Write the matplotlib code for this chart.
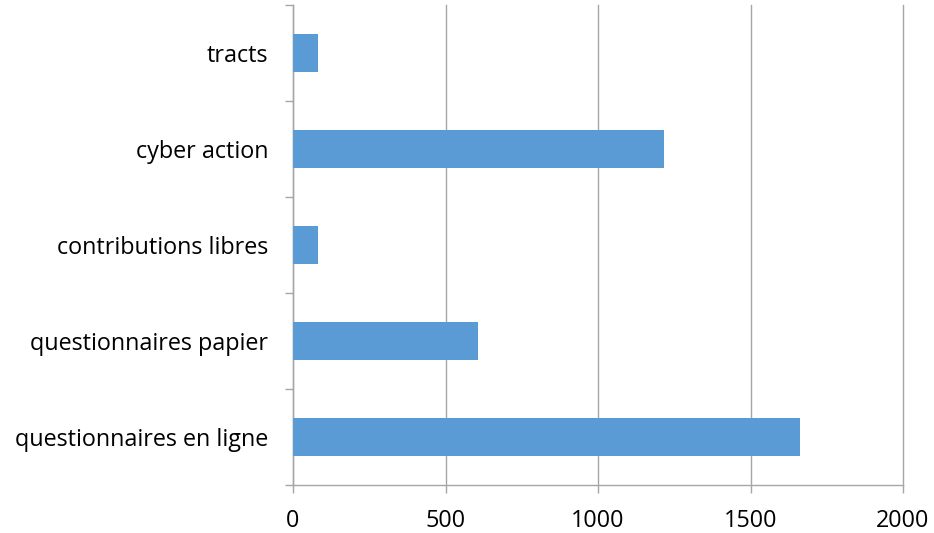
import matplotlib
matplotlib.use("Agg")
import matplotlib.pyplot as plt
import numpy as np

# data
categories = ["questionnaires en ligne", "questionnaires papier",
              "contributions libres", "cyber action", "tracts"]
values = [1662, 606, 83, 1216, 81]
x_ticks = [0, 500, 1000, 1500, 2000]

bar_color = "#5b9bd5"
line_color = "#a6a6a6"

plt.rcParams["font.family"] = ["Open Sans", "DejaVu Sans"]

fig = plt.figure(figsize=(9.34, 5.33), dpi=100)
ax = fig.add_axes([293 / 934, 48 / 533, 610 / 934, 480 / 533])

y = np.arange(len(categories))
ax.barh(y, values, height=0.4, color=bar_color, zorder=3)

ax.set_xlim(0, 2000)
ax.set_ylim(-0.5, len(categories) - 0.5)

# vertical gridlines
ax.set_xticks(x_ticks)
ax.set_xticklabels([str(t) for t in x_ticks])
ax.grid(axis="x", color=line_color, linewidth=1.0, zorder=0)
for gl in ax.get_xgridlines():
    gl.set_clip_on(False)

# category labels at centres, ticks at boundaries
ax.set_yticks(y)
ax.set_yticklabels(categories)
ax.set_yticks(np.arange(-0.5, len(categories)), minor=True)
ax.tick_params(axis="y", which="major", length=0, pad=18, labelsize=16.8)
ax.tick_params(axis="y", which="minor", length=6, width=1.0, color=line_color)
ax.tick_params(axis="x", which="major", length=6, width=1.0, color=line_color,
               pad=11, labelsize=16.8)

for side in ["top", "right"]:
    ax.spines[side].set_visible(False)
for side in ["left", "bottom"]:
    ax.spines[side].set_color(line_color)
    ax.spines[side].set_linewidth(1.0)

fig.savefig("out.png", dpi=100)
